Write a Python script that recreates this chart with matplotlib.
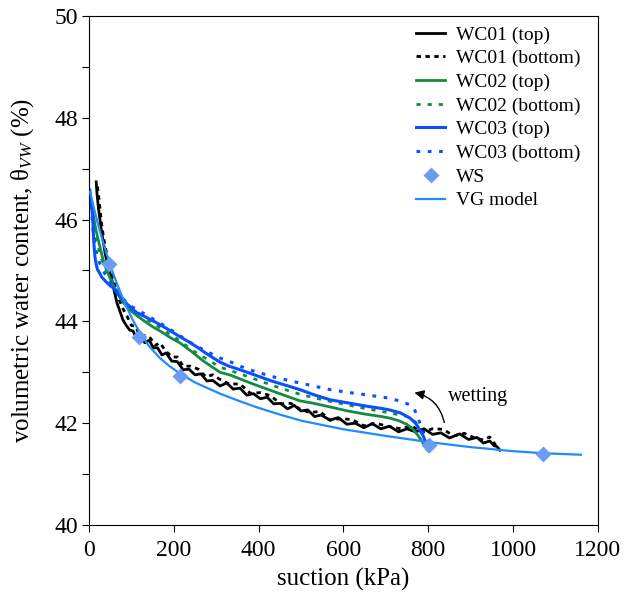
import matplotlib
matplotlib.use("Agg")
import matplotlib.pyplot as plt
from matplotlib.ticker import MultipleLocator

plt.rcParams['font.family'] = ['Liberation Serif', 'DejaVu Serif']
plt.rcParams['mathtext.fontset'] = 'custom'
plt.rcParams['mathtext.rm'] = 'Liberation Serif'
plt.rcParams['mathtext.it'] = 'Liberation Serif:italic'

# WC01 (top)
wc01_top_s = [17, 19, 22, 26, 30, 34, 38, 43, 48, 54, 60, 66, 73, 80, 88, 96,
              104, 113, 122, 132, 142, 152, 162, 172, 182, 195, 208, 222, 236,
              250, 264, 278, 292, 309, 325, 340, 356, 372, 388, 404, 420, 436,
              452, 468, 484, 500, 516, 532, 548, 568, 588, 608, 628, 648, 668,
              688, 709, 730, 750, 770, 790, 810, 830, 850, 874, 895, 915, 930,
              945, 955, 962, 969]
wc01_top_t = [46.74, 46.50, 46.25, 45.99, 45.75, 45.55, 45.34, 45.15, 45.00,
              44.81, 44.58, 44.36, 44.20, 44.03, 43.92, 43.83, 43.81, 43.65,
              43.68, 43.58, 43.63, 43.48, 43.48, 43.34, 43.38, 43.22, 43.21,
              43.05, 43.06, 42.95, 42.97, 42.83, 42.84, 42.73, 42.79, 42.67,
              42.69, 42.55, 42.58, 42.48, 42.51, 42.38, 42.39, 42.28, 42.35,
              42.24, 42.26, 42.13, 42.16, 42.06, 42.11, 41.98, 42.00, 41.91,
              41.99, 41.89, 41.94, 41.83, 41.89, 41.83, 41.89, 41.78, 41.81,
              41.71, 41.79, 41.68, 41.72, 41.61, 41.65, 41.56, 41.54, 41.47]

# WC01 (bottom)
wc01_bot_s = [20, 23, 26, 30, 35, 40, 47, 55, 62, 70, 80, 90, 100, 110, 120,
              132, 145, 157, 167, 180, 195, 208, 222, 240, 258, 276, 292, 309,
              330, 356, 380, 404, 428, 452, 476, 497, 520, 545, 568, 595, 620,
              648, 675, 709, 735, 760, 785, 810, 835, 860, 885, 910, 930, 945,
              958, 969]
wc01_bot_t = [46.65, 46.45, 46.20, 45.90, 45.62, 45.40, 45.15, 44.90, 44.68,
              44.45, 44.25, 44.10, 43.92, 43.90, 43.71, 43.72, 43.67, 43.53,
              43.58, 43.43, 43.30, 43.30, 43.12, 43.12, 43.06, 42.91, 42.95,
              42.86, 42.77, 42.77, 42.59, 42.60, 42.54, 42.38, 42.39, 42.28,
              42.21, 42.23, 42.06, 42.09, 42.07, 41.95, 42.00, 41.93, 41.89,
              41.95, 41.82, 41.89, 41.88, 41.75, 41.80, 41.71, 41.67, 41.73,
              41.58, 41.52]

# WC02 (top)
wc02_top_s = [7, 10, 14, 19, 26, 33, 42, 52, 66, 80, 97, 115, 135, 151, 170,
              190, 214, 240, 270, 309, 335, 356, 390, 430, 470, 497, 530, 568,
              610, 650, 690, 709, 730, 749, 762, 775, 785, 792, 797, 801]
wc02_top_t = [46.33, 46.10, 45.90, 45.70, 45.46, 45.22, 45.00, 44.80, 44.56,
              44.38, 44.22, 44.10, 43.98, 43.89, 43.80, 43.69, 43.58, 43.42,
              43.22, 43.00, 42.94, 42.87, 42.76, 42.64, 42.52, 42.44, 42.39,
              42.32, 42.24, 42.18, 42.13, 42.10, 42.05, 41.98, 41.90, 41.77,
              41.65, 41.55, 41.48, 41.45]

# WC02 (bottom)
wc02_bot_s = [5, 8, 12, 17, 23, 30, 38, 47, 57, 68, 80, 95, 110, 125, 140,
              155, 167, 185, 205, 225, 250, 280, 309, 335, 356, 390, 430, 470,
              497, 530, 568, 610, 650, 690, 709, 735, 757, 770, 780, 789, 797,
              802]
wc02_bot_t = [46.30, 46.10, 45.85, 45.62, 45.42, 45.22, 45.05, 44.90, 44.75,
              44.58, 44.45, 44.30, 44.20, 44.12, 44.02, 43.94, 43.88, 43.78,
              43.67, 43.55, 43.40, 43.25, 43.10, 43.03, 42.97, 42.87, 42.75,
              42.64, 42.57, 42.50, 42.43, 42.36, 42.29, 42.23, 42.20, 42.16,
              42.12, 42.02, 41.87, 41.70, 41.53, 41.45]

# WC03 (top)
wc03_top_s = [2, 4, 6, 9, 11, 14, 17, 20, 25, 30, 40, 50, 57, 68, 80, 95, 113,
              135, 160, 185, 214, 235, 254, 280, 309, 330, 356, 390, 430, 470,
              497, 530, 568, 610, 650, 690, 709, 735, 757, 770, 780, 787, 792,
              798, 804]
wc03_top_t = [46.58, 46.45, 46.30, 45.99, 45.60, 45.27, 45.12, 45.02, 44.95,
              44.87, 44.78, 44.70, 44.66, 44.55, 44.42, 44.30, 44.17, 44.08,
              43.97, 43.85, 43.70, 43.60, 43.50, 43.35, 43.20, 43.12, 43.05,
              42.95, 42.83, 42.73, 42.66, 42.56, 42.46, 42.40, 42.34, 42.29,
              42.26, 42.20, 42.10, 42.00, 41.87, 41.77, 41.67, 41.60, 41.57]

# WC03 (bottom)
wc03_bot_s = [2, 4, 7, 10, 13, 16, 20, 25, 32, 40, 50, 60, 75, 90, 105, 120,
              140, 167, 190, 214, 240, 270, 309, 335, 356, 390, 430, 470, 497,
              530, 568, 615, 660, 709, 735, 757, 767, 775, 781, 787, 792, 797,
              801]
wc03_bot_t = [46.50, 46.30, 46.05, 45.75, 45.55, 45.40, 45.28, 45.15, 45.02,
              44.90, 44.78, 44.65, 44.50, 44.35, 44.27, 44.20, 44.10, 43.97,
              43.85, 43.72, 43.58, 43.44, 43.28, 43.20, 43.12, 43.02, 42.92,
              42.84, 42.79, 42.73, 42.66, 42.60, 42.55, 42.49, 42.43, 42.36,
              42.28, 42.12, 41.98, 41.80, 41.70, 41.60, 41.55]

# WS points
ws_s = [48, 118, 214, 801, 1071]
ws_t = [45.12, 43.70, 42.92, 41.57, 41.40]

# VG model
vg_s = [2, 10, 20, 30, 40, 49, 60, 75, 89, 105, 120, 140, 167, 190, 214, 250,
        309, 356, 400, 450, 500, 600, 700, 800, 900, 1000, 1070, 1160]
vg_t = [46.55, 46.28, 45.95, 45.65, 45.37, 45.13, 44.87, 44.55, 44.28, 44.00,
        43.78, 43.53, 43.28, 43.12, 42.98, 42.80, 42.58, 42.43, 42.30, 42.17,
        42.05, 41.88, 41.75, 41.63, 41.53, 41.45, 41.41, 41.38]

black = 'black'
green = '#138c3e'
blue = '#0a50ff'
vg_col = '#1e8cff'
ws_col = '#6b9cf5'

fig = plt.figure(figsize=(6.32, 5.92), dpi=100)
ax = fig.add_axes([0.1408, 0.1132, 0.8052, 0.8598])

ax.plot(wc01_top_s, wc01_top_t, color=black, lw=2.0, label='WC01 (top)')
ax.plot(wc01_bot_s, wc01_bot_t, color=black, lw=2.0, ls=(0, (1.6, 1.6)),
        label='WC01 (bottom)')
ax.plot(wc02_top_s, wc02_top_t, color=green, lw=2.0, label='WC02 (top)')
ax.plot(wc02_bot_s, wc02_bot_t, color=green, lw=2.0, ls=(0, (1.5, 2.5)),
        label='WC02 (bottom)')
ax.plot(wc03_top_s, wc03_top_t, color=blue, lw=2.2, label='WC03 (top)')
ax.plot(wc03_bot_s, wc03_bot_t, color=blue, lw=2.2, ls=(0, (1.2, 2.5)),
        label='WC03 (bottom)')
ax.plot(ws_s, ws_t, ls='none', marker='D', ms=8, color=ws_col,
        mec='none', label='WS', zorder=5)
ax.plot(vg_s, vg_t, color=vg_col, lw=1.6, label='VG model', zorder=4)

ax.annotate('', xy=(761, 42.61), xytext=(839, 41.96),
            arrowprops=dict(arrowstyle='-|>', connectionstyle='arc3,rad=0.35',
                            color='black', lw=1, mutation_scale=14))
ax.text(846, 42.52, 'wetting', fontsize=14.5, va='center', ha='left')

ax.set_xlim(0, 1200)
ax.set_ylim(40, 50)
ax.xaxis.set_major_locator(MultipleLocator(200))
ax.yaxis.set_major_locator(MultipleLocator(2))
ax.yaxis.set_minor_locator(MultipleLocator(1))
ax.tick_params(which='both', direction='out', labelsize=17, top=False,
               right=False)
ax.tick_params(axis='x', pad=6)
ax.tick_params(axis='y', pad=3)
ax.tick_params(which='major', length=5, width=0.8)
ax.tick_params(which='minor', length=5, width=0.8)
ax.set_xlabel('suction (kPa)', fontsize=18, labelpad=5)
ax.set_ylabel(r'volumetric water content, θ$_{\mathit{VW}}$ (%)', fontsize=18,
              labelpad=13)

ax.legend(loc='upper right', bbox_to_anchor=(1.0, 1.015), frameon=False,
          fontsize=14, handlelength=1.5, labelspacing=0.31,
          handletextpad=0.55, borderaxespad=0.5)

fig.savefig('out.png', dpi=100)
